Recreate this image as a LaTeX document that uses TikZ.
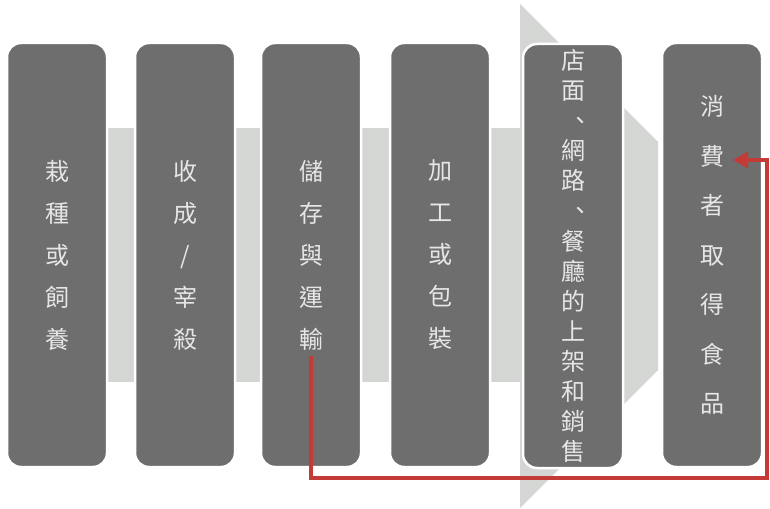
\documentclass[tikz,border=0pt]{standalone}
\usepackage{fontspec}
\newfontfamily\cjk{Noto Sans CJK TC}
\usetikzlibrary{arrows.meta}
\definecolor{boxgray}{HTML}{6E6E6E}
\definecolor{bandgray}{HTML}{D3D6D2}
\definecolor{txtgray}{HTML}{E6E6E6}
\definecolor{linkred}{HTML}{C43A36}
\newcommand\dun{\makebox[1em][l]{\hspace{0.32em}、}}
\tikzset{
  stepbox/.style={draw=white, line width=2.5pt, fill=boxgray, rounded corners=14pt,
    minimum width=100pt, minimum height=424pt, inner sep=0pt, align=center,
    text=txtgray, font=\cjk\fontsize{24}{42}\selectfont},
  tight/.style={font=\cjk\fontsize{24}{30.1}\selectfont},
  wide/.style={font=\cjk\fontsize{24}{49.5}\selectfont},
  band/.style={fill=bandgray, draw=none},
  link/.style={draw=linkred, line width=4pt, -{Triangle[length=15pt,width=16pt]}}
}
\begin{document}
\begin{tikzpicture}[x=1pt,y=-1pt]
\useasboundingbox (0,0) rectangle (770,508);
% big background arrow
\fill[band] (25,128) rectangle (521,382);
\fill[band] (520,4) -- (658,142) -- (658,370) -- (520,508) -- cycle;
% steps
\node[stepbox] (b1) at (57,255) {栽\\種\\或\\飼\\養};
\node[stepbox] (b2) at (185,255) {收\\成\\/\\宰\\殺};
\node[stepbox] (b3) at (311,255) {儲\\存\\與\\運\\輸};
\node[stepbox] (b4) at (440,255) {加\\工\\或\\包\\裝};
\node[stepbox, tight] (b5) at (573,256) {店\\面\\\dun\\網\\路\\\dun\\餐\\廳\\的\\上\\架\\和\\銷\\售};
\node[stepbox, wide] (b6) at (712,255) {消\\費\\者\\取\\得\\食\\品};
% feedback connector
\coordinate (s) at (311,356);
\coordinate (r) at (767,478);
\coordinate (e) at (733,160);
\draw[link, line join=miter] (s) |- (r) |- (e);
\end{tikzpicture}
\end{document}
